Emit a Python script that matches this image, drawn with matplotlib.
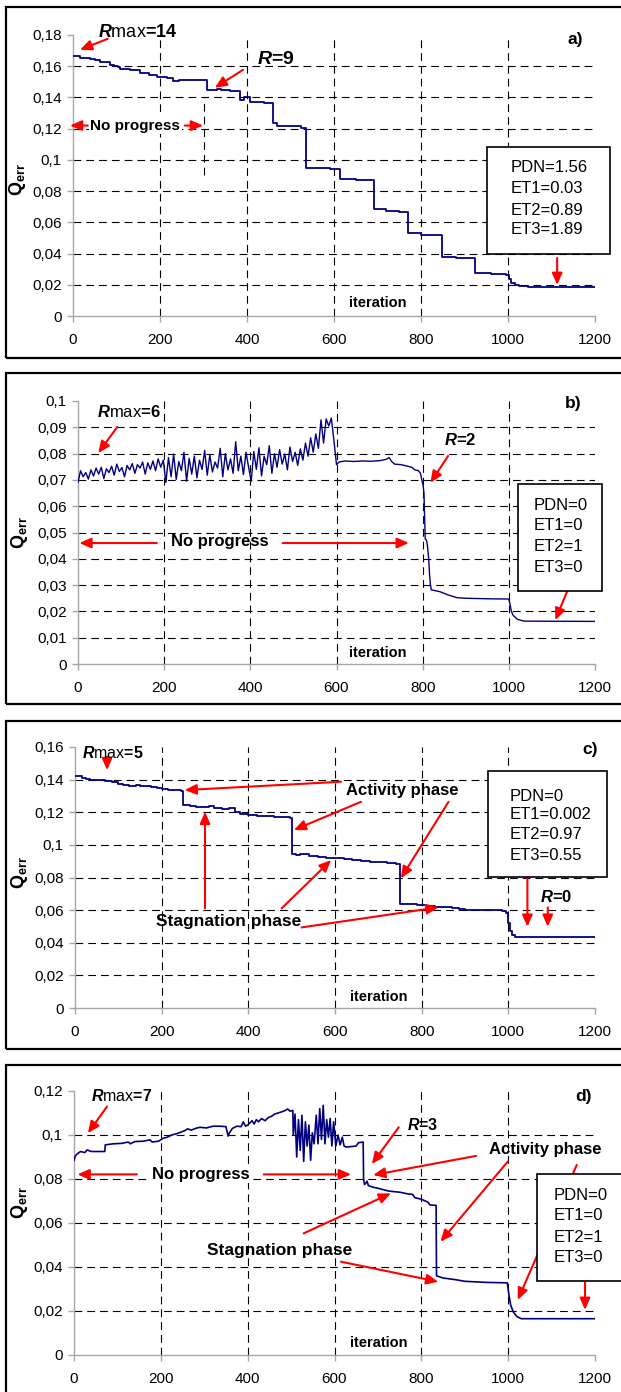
import matplotlib
matplotlib.use("Agg")
import matplotlib.pyplot as plt
from matplotlib.patches import Rectangle
from matplotlib.ticker import FuncFormatter

plt.rcParams['font.family'] = ['Liberation Sans', 'DejaVu Sans']
plt.rcParams['mathtext.fontset'] = 'custom'
plt.rcParams['mathtext.it'] = 'Liberation Sans:italic:bold'
plt.rcParams['mathtext.rm'] = 'Liberation Sans'
plt.rcParams['mathtext.bf'] = 'Liberation Sans:bold'

W, H = 621, 1392
LINE = '#000080'
RED = '#ff0000'
DASH = (0, (7, 4.5))

# ---- panel a) ----
a_it = [0, 15, 39, 50, 62, 85, 95, 104, 108, 131, 154, 175, 192, 215, 230, 244, 270, 290,
        308, 330, 340, 361, 384, 392, 408, 414, 440, 460, 468, 500, 523, 536, 560, 590, 613,
        650, 692, 720, 750, 770, 800, 848, 880, 924, 960, 995, 1002, 1008, 1015, 1025, 1046, 1200]
a_q = [0.1663, 0.1655, 0.1646, 0.1638, 0.1625, 0.1610, 0.1600, 0.1596, 0.1583, 0.1575, 0.1555,
       0.1545, 0.1530, 0.1525, 0.1506, 0.1510, 0.1513, 0.1511, 0.1445, 0.1455, 0.1446, 0.1440,
       0.1385, 0.1404, 0.1372, 0.1368, 0.1364, 0.1239, 0.1220, 0.1218, 0.1207, 0.0951, 0.0946,
       0.0940, 0.0877, 0.0872, 0.0684, 0.0672, 0.0669, 0.0534, 0.0521, 0.0380, 0.0372, 0.0277,
       0.0272, 0.0262, 0.0235, 0.0212, 0.0198, 0.0192, 0.0186, 0.0184]

# ---- panel b) ----
b_noise_it = list(range(0, 600, 6))
b_noise_q = [0.0690, 0.0735, 0.0712, 0.0728, 0.0703, 0.0738, 0.0715, 0.0745, 0.0722, 0.0748,
             0.0705, 0.0742, 0.0728, 0.0752, 0.0718, 0.0760, 0.0732, 0.0747, 0.0712, 0.0755,
             0.0738, 0.0762, 0.0725, 0.0758, 0.0745, 0.0768, 0.0722, 0.0765, 0.0740, 0.0772,
             0.0735, 0.0780, 0.0748, 0.0775,
             0.0690, 0.0785, 0.0712, 0.0798, 0.0702, 0.0770, 0.0735, 0.0805, 0.0695, 0.0782,
             0.0722, 0.0790, 0.0708, 0.0775, 0.0740, 0.0812, 0.0718, 0.0795, 0.0730, 0.0768,
             0.0745, 0.0820, 0.0712, 0.0800, 0.0738, 0.0780, 0.0725, 0.0845, 0.0735, 0.0790,
             0.0720, 0.0805, 0.0748,
             0.0695, 0.0808, 0.0740, 0.0822, 0.0715, 0.0790, 0.0758, 0.0830, 0.0725, 0.0800,
             0.0748, 0.0815, 0.0760, 0.0798, 0.0738, 0.0825, 0.0770, 0.0805, 0.0755, 0.0818,
             0.0775, 0.0840, 0.0790, 0.0860, 0.0805, 0.0875, 0.0820, 0.0928, 0.0840, 0.0932,
             0.0905, 0.0935, 0.0850]
b_tail_it = [600, 606, 620, 640, 660, 680, 700, 715, 722, 728, 735, 750, 765, 775, 782, 790,
             795, 798, 801, 803, 805, 806, 809, 811, 814, 816, 818, 820, 840, 860, 880, 900,
             950, 1000, 1003, 1006, 1010, 1020, 1035, 1200]
b_tail_q = [0.0758, 0.0768, 0.0772, 0.0770, 0.0772, 0.0771, 0.0773, 0.0778, 0.0785, 0.0770,
            0.0760, 0.0758, 0.0752, 0.0748, 0.0738, 0.0735, 0.0725, 0.0700, 0.0680, 0.0650,
            0.0540, 0.0475, 0.0470, 0.0450, 0.0400, 0.0340, 0.0300, 0.0282, 0.0275, 0.0262,
            0.0252, 0.0250, 0.0248, 0.0247, 0.0225, 0.0200, 0.0185, 0.0170, 0.0163, 0.0162]

# ---- panel c) ----
c_it = [0, 8, 15, 25, 35, 50, 60, 70, 85, 100, 110, 125, 140, 150, 165, 175, 190, 200, 215,
        230, 245, 250, 265, 280, 300, 310, 320, 340, 355, 370, 380, 400, 420, 440, 460, 480,
        495, 500, 510, 520, 540, 560, 580, 600, 620, 640, 660, 680, 700, 720, 740, 750, 770,
        790, 810, 830, 850, 870, 885, 900, 950, 985, 995, 1000, 1003, 1008, 1015, 1200]
c_q = [0.1425, 0.1420, 0.1412, 0.1405, 0.1398, 0.1395, 0.1400, 0.1390, 0.1385, 0.1375, 0.1368,
       0.1362, 0.1365, 0.1358, 0.1360, 0.1352, 0.1348, 0.1342, 0.1338, 0.1335, 0.1330, 0.1245,
       0.1240, 0.1235, 0.1230, 0.1238, 0.1228, 0.1222, 0.1225, 0.1200, 0.1188, 0.1185, 0.1180,
       0.1178, 0.1172, 0.1170, 0.1165, 0.0945, 0.0940, 0.0942, 0.0932, 0.0928, 0.0922, 0.0918,
       0.0915, 0.0905, 0.0900, 0.0895, 0.0892, 0.0890, 0.0885, 0.0640, 0.0635, 0.0630, 0.0628,
       0.0622, 0.0618, 0.0612, 0.0605, 0.0600, 0.0598, 0.0592, 0.0585, 0.0520, 0.0470, 0.0445,
       0.0438, 0.0437]

# ---- panel d) ----
d_it = [0, 3, 8, 15, 25, 30, 40, 71, 72, 90, 110, 125, 130, 140, 160, 175, 180, 195, 205, 215,
        225, 235, 245, 255, 262, 270, 280, 290, 305, 320, 335, 350, 355, 358, 365, 375, 385, 390,
        395, 400, 410, 415, 420, 425, 432, 440, 448, 455, 462, 470, 478, 485, 492, 498, 504,
        505, 509, 513, 517, 521, 525, 529, 533, 537, 541, 545, 549, 553, 558, 562, 566, 570, 574,
        578, 582, 586, 590, 594, 598, 603, 608, 613, 618, 622,
        627, 650, 655, 666, 667, 669, 672, 675, 678, 690, 700, 725, 750, 770, 780,
        785, 800, 815, 820, 834, 835, 850, 880, 900, 950, 998, 1002, 1006, 1012, 1020, 1030, 1200]
d_q = [0.0885, 0.0905, 0.0915, 0.0925, 0.0920, 0.0932, 0.0925, 0.0925, 0.0955, 0.0960, 0.0962,
       0.0968, 0.0960, 0.0970, 0.0972, 0.0978, 0.0968, 0.0972, 0.0985, 0.0990, 0.1000, 0.1005,
       0.1012, 0.1020, 0.1028, 0.1022, 0.1030, 0.1035, 0.1032, 0.1040, 0.1040, 0.1038, 0.0995,
       0.1010, 0.1030, 0.1040, 0.1038, 0.1060, 0.1040, 0.1045, 0.1065, 0.1050, 0.1070, 0.1060,
       0.1075, 0.1065, 0.1080, 0.1085, 0.1095, 0.1100, 0.1105, 0.1110, 0.1118, 0.1108, 0.1112,
       0.1000, 0.1095, 0.0900, 0.1070, 0.0930, 0.1090, 0.0880, 0.1060, 0.0950, 0.1045, 0.0885,
       0.1010, 0.0960, 0.1090, 0.0960, 0.1120, 0.0980, 0.1135, 0.0960, 0.1070, 0.0990, 0.1075,
       0.0950, 0.1060, 0.0950, 0.1000, 0.0955, 0.0990, 0.0950,
       0.0945, 0.0950, 0.0965, 0.0968, 0.0800, 0.0775, 0.0780, 0.0790, 0.0770, 0.0762, 0.0758,
       0.0745, 0.0740, 0.0732, 0.0730, 0.0715, 0.0708, 0.0695, 0.0682, 0.0680, 0.0360, 0.0350,
       0.0342, 0.0335, 0.0330, 0.0328, 0.0270, 0.0225, 0.0195, 0.0175, 0.0165, 0.0165]

fig = plt.figure(figsize=(W / 100, H / 100), dpi=100)


def frame(top, bottom):
    fig.add_artist(Rectangle((6 / W, 1 - bottom / H), 2, (bottom - top) / H,
                             transform=fig.transFigure, fill=False, ec='black', lw=1.6))


def make_axes(l, r, t, b, ymax, ystep):
    ax = fig.add_axes([l / W, 1 - b / H, (r - l) / W, (b - t) / H])
    ax.set_xlim(0, 1200)
    ax.set_ylim(0, ymax)
    yt = [round(i * ystep, 3) for i in range(int(round(ymax / ystep)) + 1)]
    ax.set_yticks(yt)
    ax.set_xticks(range(0, 1201, 200))
    ax.yaxis.set_major_formatter(FuncFormatter(lambda v, p: ('%g' % round(v, 3)).replace('.', ',')))
    for s in ['top', 'right']:
        ax.spines[s].set_visible(False)
    for s in ['left', 'bottom']:
        ax.spines[s].set_color('#a6a6a6')
        ax.spines[s].set_linewidth(1.0)
    ax.tick_params(axis='both', direction='out', color='#a6a6a6', length=4, width=1, labelsize=11)
    ax.tick_params(axis='x', pad=8)
    ax.tick_params(axis='y', pad=4)
    for v in yt[1:-1]:
        ax.axhline(v, color='black', lw=0.8, ls=DASH, zorder=1)
    for v in range(200, 1001, 200):
        ax.axvline(v, color='black', lw=0.8, ls=DASH, zorder=1)
    ax.axvline(1200, color='#c0c0c0', lw=0.8, ls=DASH, zorder=1)
    return ax


def arrow(ax, tail, head, z=3):
    ax.annotate('', xy=head, xytext=tail, annotation_clip=False, zorder=z,
                arrowprops=dict(arrowstyle='-|>,head_length=0.5,head_width=0.22', color=RED,
                                lw=1.5, mutation_scale=14, shrinkA=0, shrinkB=0))


def label(ax, x, y, s, fs=12, ha='center', bg=False):
    kw = dict(bbox=dict(fc='white', ec='none', pad=1)) if bg else {}
    ax.text(x, y, s, ha=ha, va='center', fontsize=fs, fontweight='bold', clip_on=False, zorder=4, **kw)


def info_box(ax, x0, x1, y0, y1, tx, rows, lines):
    ax.add_patch(Rectangle((x0, y0), x1 - x0, y1 - y0, fc='white', ec='black', lw=1.2,
                           clip_on=False, zorder=5))
    for y, s in zip(rows, lines):
        ax.text(tx, y, s, ha='left', va='center', fontsize=12, zorder=6, clip_on=False)


def qerr(x, y):
    fig.text(x / W, 1 - y / H, r'$\mathbf{Q}_{\mathbf{err}}$', rotation=90, ha='center', va='center', fontsize=13)


# ---------- a ----------
frame(7, 358)
ax1 = make_axes(73, 595, 35, 316, 0.18, 0.02)
ax1.plot(a_it, a_q, color=LINE, lw=1.3, drawstyle='steps-post', zorder=3)
label(ax1, 57, 0.1814, r'$\mathit{R}\mathrm{max}$=14', fs=13, ha='left')
arrow(ax1, (80, 0.1776), (16, 0.1705))
label(ax1, 423, 0.164, r'$\mathit{R}$=9', fs=14, ha='left')
arrow(ax1, (391, 0.1577), (326, 0.1462))
label(ax1, 143, 0.122, 'No progress', fs=11, bg=True)
arrow(ax1, (34, 0.122), (-7, 0.122))
arrow(ax1, (257, 0.122), (299, 0.122))
ax1.vlines(301, 0.0903, 0.1397, color='black', lw=0.8, ls=DASH, zorder=2)
label(ax1, 1137, 0.177, 'a)', fs=12.5, ha='left')
info_box(ax1, 952, 1235, 0.0397, 0.1083, 1005, [0.0949, 0.0814, 0.0679, 0.0551],
         ['PDN=1.56', 'ET1=0.03', 'ET2=0.89', 'ET3=1.89'])
arrow(ax1, (1113, 0.0372), (1113, 0.0199))
label(ax1, 701, 0.0083, 'iteration', fs=10.5, bg=True)
qerr(17, 180)

# ---------- b ----------
frame(373, 704)
ax2 = make_axes(78, 595, 401, 664, 0.1, 0.01)
ax2.plot(b_noise_it + b_tail_it, b_noise_q + b_tail_q, color=LINE, lw=1.0, zorder=3)
label(ax2, 44, 0.0959, r'$\mathit{R}\mathrm{max}$=6', fs=12, ha='left')
arrow(ax2, (91, 0.0901), (47, 0.0802))
label(ax2, 849, 0.0852, r'$\mathit{R}$=2', fs=12, ha='left')
arrow(ax2, (859, 0.0791), (818, 0.0689))
label(ax2, 1130, 0.0992, 'b)', fs=12.5, ha='left')
label(ax2, 330, 0.0465, 'No progress', fs=12)
arrow(ax2, (183, 0.046), (3, 0.046))
arrow(ax2, (475, 0.046), (768, 0.046))
info_box(ax2, 1021, 1216, 0.0279, 0.0684, 1058, [0.0602, 0.0525, 0.0445, 0.0366],
         ['PDN=0', 'ET1=0', 'ET2=1', 'ET3=0'])
arrow(ax2, (1136, 0.0279), (1108, 0.0167))
label(ax2, 696, 0.0043, 'iteration', fs=10.5, bg=True)
qerr(20, 533)

# ---------- c ----------
frame(721, 1049)
ax3 = make_axes(75, 595, 747, 1008, 0.16, 0.02)
ax3.plot(c_it, c_q, color=LINE, lw=1.3, drawstyle='steps-post', zorder=3)
label(ax3, 17, 0.1564, r'$\mathit{R}\mathrm{max}$=5', fs=11.5, ha='left')
arrow(ax3, (74, 0.154), (74, 0.1458))
label(ax3, 1170, 0.1587, 'c)', fs=12.5, ha='left')
label(ax3, 756, 0.1336, 'Activity phase', fs=12)
arrow(ax3, (614, 0.1387), (253, 0.1336))
arrow(ax3, (660, 0.1264), (505, 0.1091))
arrow(ax3, (862, 0.1264), (752, 0.0795))
info_box(ax3, 953, 1228, 0.0801, 0.1452, 1004, [0.1299, 0.1189, 0.1064, 0.0937],
         ['PDN=0', 'ET1=0.002', 'ET2=0.97', 'ET3=0.55'])
arrow(ax3, (1044, 0.0801), (1044, 0.0498))
label(ax3, 1074, 0.0682, r'$\mathit{R}$=0', fs=12, ha='left')
arrow(ax3, (1091, 0.0617), (1091, 0.0498))
label(ax3, 354, 0.0529, 'Stagnation phase', fs=12.5)
arrow(ax3, (300, 0.0611), (300, 0.1203))
arrow(ax3, (477, 0.0611), (591, 0.0907))
arrow(ax3, (523, 0.0494), (839, 0.0617))
label(ax3, 702, 0.0069, 'iteration', fs=10.5, bg=True)
qerr(20, 873)

# ---------- d ----------
frame(1065, 1420)
ax4 = make_axes(74, 595, 1091, 1355, 0.12, 0.02)
ax4.plot(d_it, d_q, color=LINE, lw=1.2, zorder=3)
label(ax4, 39, 0.1177, r'$\mathit{R}\mathrm{max}$=7', fs=11.5, ha='left')
arrow(ax4, (76, 0.1129), (32, 0.1008))
label(ax4, 1155, 0.1177, 'd)', fs=12.5, ha='left')
label(ax4, 766, 0.1045, r'$\mathit{R}$=3', fs=11.5, ha='left')
arrow(ax4, (748, 0.1035), (686, 0.0868))
label(ax4, 1086, 0.0932, 'Activity phase', fs=12)
arrow(ax4, (926, 0.0905), (689, 0.0818))
arrow(ax4, (999, 0.0879), (844, 0.0515))
arrow(ax4, (1158, 0.0864), (1022, 0.025))
info_box(ax4, 1066, 1269, 0.0338, 0.0823, 1105, [0.0723, 0.0636, 0.0535, 0.0441],
         ['PDN=0', 'ET1=0', 'ET2=1', 'ET3=0'])
arrow(ax4, (1177, 0.0338), (1177, 0.0205))
label(ax4, 292, 0.0821, 'No progress', fs=12, bg=True)
arrow(ax4, (145, 0.0821), (8, 0.0821))
arrow(ax4, (437, 0.0821), (638, 0.0821))
label(ax4, 474, 0.0474, 'Stagnation phase', fs=12.5)
arrow(ax4, (529, 0.0553), (730, 0.0735))
arrow(ax4, (615, 0.0424), (839, 0.0333))
label(ax4, 702, 0.0053, 'iteration', fs=10.5, bg=True)
qerr(20, 1203)

fig.savefig('out.png', dpi=100)
